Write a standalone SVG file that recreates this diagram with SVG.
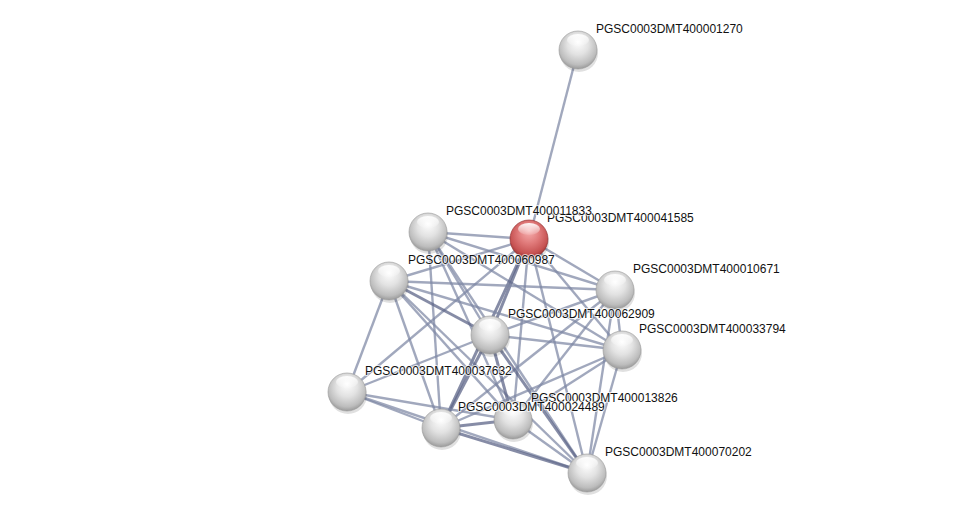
<svg xmlns="http://www.w3.org/2000/svg" width="975" height="519" viewBox="0 0 975 519">
<defs>
<radialGradient id="gw" cx="0.5" cy="0.42" r="0.62" fx="0.5" fy="0.28">
<stop offset="0" stop-color="#ffffff"/>
<stop offset="0.45" stop-color="#e2e2e2"/>
<stop offset="0.8" stop-color="#bdbdbd"/>
<stop offset="1" stop-color="#8e8e8e"/>
</radialGradient>
<radialGradient id="gr" cx="0.5" cy="0.42" r="0.62" fx="0.5" fy="0.28">
<stop offset="0" stop-color="#f7b0b0"/>
<stop offset="0.45" stop-color="#e07a7a"/>
<stop offset="0.8" stop-color="#c65252"/>
<stop offset="1" stop-color="#8f2a2a"/>
</radialGradient>
<linearGradient id="hl" x1="0" y1="0" x2="0" y2="1">
<stop offset="0" stop-color="#ffffff" stop-opacity="0.95"/>
<stop offset="1" stop-color="#ffffff" stop-opacity="0.1"/>
</linearGradient>
</defs>
<style>
.e{stroke:#7d86a3;stroke-width:2.4;stroke-opacity:0.72;fill:none}
.h{stroke:#5d6688;stroke-width:3;stroke-opacity:0.75}
.s{fill:#000;fill-opacity:0.12}
.w{fill:url(#gw);stroke:#999;stroke-width:0.6}
.r{fill:url(#gr);stroke:#8a2a2a;stroke-width:0.6}
.l{fill:url(#hl)}
text{font-family:"Liberation Sans",Arial,sans-serif;font-size:12px;fill:#111;stroke:#ffffff;stroke-width:2;stroke-opacity:0.7;paint-order:stroke}
</style>
<rect width="975" height="519" fill="#ffffff"/>
<g id="edges">
<line class="e" x1="578" y1="50" x2="529" y2="239"/>
<line class="e" x1="428" y1="232" x2="529" y2="239"/>
<line class="e" x1="428" y1="232" x2="615" y2="290"/>
<line class="e" x1="428" y1="232" x2="490" y2="335"/>
<line class="e" x1="428" y1="232" x2="622" y2="350"/>
<line class="e" x1="428" y1="232" x2="513" y2="420"/>
<line class="e" x1="428" y1="232" x2="441" y2="428"/>
<line class="e" x1="428" y1="232" x2="587" y2="473"/>
<line class="e" x1="529" y1="239" x2="389" y2="281"/>
<line class="e" x1="529" y1="239" x2="615" y2="290"/>
<line class="e h" x1="529" y1="239" x2="490" y2="335"/>
<line class="e" x1="529" y1="239" x2="622" y2="350"/>
<line class="e" x1="529" y1="239" x2="347" y2="392"/>
<line class="e" x1="529" y1="239" x2="513" y2="420"/>
<line class="e h" x1="529" y1="239" x2="441" y2="428"/>
<line class="e" x1="529" y1="239" x2="587" y2="473"/>
<line class="e" x1="389" y1="281" x2="615" y2="290"/>
<line class="e h" x1="389" y1="281" x2="490" y2="335"/>
<line class="e" x1="389" y1="281" x2="622" y2="350"/>
<line class="e" x1="389" y1="281" x2="347" y2="392"/>
<line class="e" x1="389" y1="281" x2="513" y2="420"/>
<line class="e" x1="389" y1="281" x2="441" y2="428"/>
<line class="e" x1="389" y1="281" x2="587" y2="473"/>
<line class="e" x1="615" y1="290" x2="490" y2="335"/>
<line class="e" x1="615" y1="290" x2="622" y2="350"/>
<line class="e" x1="615" y1="290" x2="513" y2="420"/>
<line class="e" x1="615" y1="290" x2="441" y2="428"/>
<line class="e" x1="615" y1="290" x2="587" y2="473"/>
<line class="e" x1="490" y1="335" x2="622" y2="350"/>
<line class="e" x1="490" y1="335" x2="347" y2="392"/>
<line class="e h" x1="490" y1="335" x2="513" y2="420"/>
<line class="e h" x1="490" y1="335" x2="441" y2="428"/>
<line class="e h" x1="490" y1="335" x2="587" y2="473"/>
<line class="e" x1="622" y1="350" x2="513" y2="420"/>
<line class="e" x1="622" y1="350" x2="441" y2="428"/>
<line class="e" x1="622" y1="350" x2="587" y2="473"/>
<line class="e" x1="347" y1="392" x2="441" y2="428"/>
<line class="e" x1="347" y1="392" x2="513" y2="420"/>
<line class="e" x1="347" y1="392" x2="587" y2="473"/>
<line class="e h" x1="441" y1="428" x2="513" y2="420"/>
<line class="e" x1="513" y1="420" x2="587" y2="473"/>
<line class="e h" x1="441" y1="428" x2="587" y2="473"/>
</g>
<g id="n_A"><ellipse class="s" cx="579" cy="53" rx="19" ry="19"/><circle class="w" cx="578" cy="50" r="19"/><ellipse class="l" cx="578" cy="40" rx="11" ry="6"/></g>
<g id="n_B"><ellipse class="s" cx="429" cy="235" rx="19" ry="19"/><circle class="w" cx="428" cy="232" r="19"/><ellipse class="l" cx="428" cy="222" rx="11" ry="6"/></g>
<g id="n_C"><ellipse class="s" cx="530" cy="242" rx="19" ry="19"/><circle class="r" cx="529" cy="239" r="19"/><ellipse class="l" cx="529" cy="229" rx="11" ry="6"/></g>
<g id="n_D"><ellipse class="s" cx="390" cy="284" rx="19" ry="19"/><circle class="w" cx="389" cy="281" r="19"/><ellipse class="l" cx="389" cy="271" rx="11" ry="6"/></g>
<g id="n_E"><ellipse class="s" cx="616" cy="293" rx="19" ry="19"/><circle class="w" cx="615" cy="290" r="19"/><ellipse class="l" cx="615" cy="280" rx="11" ry="6"/></g>
<g id="n_F"><ellipse class="s" cx="491" cy="338" rx="19" ry="19"/><circle class="w" cx="490" cy="335" r="19"/><ellipse class="l" cx="490" cy="325" rx="11" ry="6"/></g>
<g id="n_G"><ellipse class="s" cx="623" cy="353" rx="19" ry="19"/><circle class="w" cx="622" cy="350" r="19"/><ellipse class="l" cx="622" cy="340" rx="11" ry="6"/></g>
<g id="n_H"><ellipse class="s" cx="348" cy="395" rx="19" ry="19"/><circle class="w" cx="347" cy="392" r="19"/><ellipse class="l" cx="347" cy="382" rx="11" ry="6"/></g>
<g id="n_I"><ellipse class="s" cx="514" cy="423" rx="19" ry="19"/><circle class="w" cx="513" cy="420" r="19"/><ellipse class="l" cx="513" cy="410" rx="11" ry="6"/></g>
<g id="n_J"><ellipse class="s" cx="442" cy="431" rx="19" ry="19"/><circle class="w" cx="441" cy="428" r="19"/><ellipse class="l" cx="441" cy="418" rx="11" ry="6"/></g>
<g id="n_K"><ellipse class="s" cx="588" cy="476" rx="19" ry="19"/><circle class="w" cx="587" cy="473" r="19"/><ellipse class="l" cx="587" cy="463" rx="11" ry="6"/></g>
<g id="labels">
<text x="596" y="32.5">PGSC0003DMT400001270</text>
<text x="547" y="221.5">PGSC0003DMT400041585</text>
<text x="446" y="214.5">PGSC0003DMT400011833</text>
<text x="408" y="263.5">PGSC0003DMT400060987</text>
<text x="633" y="272.5">PGSC0003DMT400010671</text>
<text x="508" y="317.5">PGSC0003DMT400062909</text>
<text x="639" y="332.5">PGSC0003DMT400033794</text>
<text x="365" y="374.5">PGSC0003DMT400037632</text>
<text x="531" y="401.5">PGSC0003DMT400013826</text>
<text x="458" y="410.5">PGSC0003DMT400024489</text>
<text x="605" y="455.5">PGSC0003DMT400070202</text>
</g>
</svg>
